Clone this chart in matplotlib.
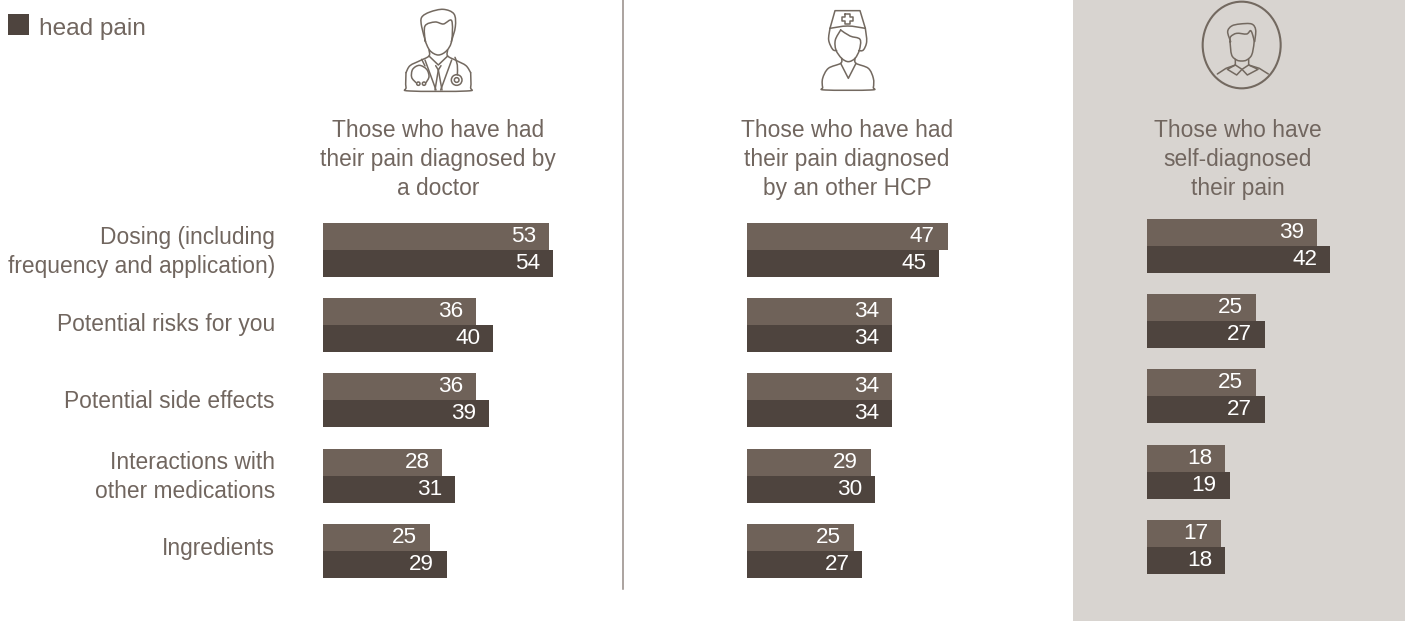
import numpy as np
import matplotlib
matplotlib.use("Agg")
import matplotlib.pyplot as plt
from matplotlib.patches import Rectangle, Ellipse, Circle, PathPatch
from matplotlib.path import Path

plt.rcParams['font.family'] = ['Liberation Sans', 'DejaVu Sans']

W, H = 1405, 621

categories = ["Dosing (including\nfrequency and application)", "Potential risks for you",
              "Potential side effects", "Interactions with\nother medications", "Ingredients"]
legend_label = "head pain"
titles = ["Those who have had\ntheir pain diagnosed by\na doctor",
          "Those who have had\ntheir pain diagnosed\nby an other HCP",
          "Those who have\nself-diagnosed\ntheir pain"]

doctor_light = [53, 36, 36, 28, 25]
doctor_dark = [54, 40, 39, 31, 29]
hcp_light = [47, 34, 34, 29, 25]
hcp_dark = [45, 34, 34, 30, 27]
self_light = [39, 25, 25, 18, 17]
self_dark = [42, 27, 27, 19, 18]

LIGHT = "#6f6259"
DARK = "#4e443e"
TEXT = "#71665f"
LINE = "#736960"
PANEL = "#d8d4d0"

fig = plt.figure(figsize=(W / 100, H / 100), dpi=100, facecolor="white")

# overlay in pixel coordinates for the panel, divider, icons and text
bg = fig.add_axes([0, 0, 1, 1], zorder=0)
bg.set_xlim(0, W)
bg.set_ylim(H, 0)
bg.axis("off")
bg.add_patch(Rectangle((1073, 0), 332, 621, fc=PANEL, ec="none"))
bg.plot([622.6, 622.6], [0, 589], color="#948a85", lw=1.1)
bg.add_patch(Rectangle((8, 14), 21, 21, fc=DARK, ec="none"))
bg.text(39, 28.5, legend_label, fontsize=17.6, color=TEXT, va="center", ha="left")


def smooth(pts, closed=False):
    # catmull-rom through the points
    pts = np.array(pts, dtype=float)
    n = len(pts)
    verts = [pts[0]]
    codes = [Path.MOVETO]
    last = n if closed else n - 1
    for i in range(last):
        if closed:
            p0, p1, p2, p3 = pts[(i - 1) % n], pts[i], pts[(i + 1) % n], pts[(i + 2) % n]
        else:
            p0, p1, p2, p3 = pts[max(i - 1, 0)], pts[i], pts[i + 1], pts[min(i + 2, n - 1)]
        verts += [p1 + (p2 - p0) / 6, p2 - (p3 - p1) / 6, p2]
        codes += [Path.CURVE4] * 3
    return Path(verts, codes)


def icon_line(pts, ox, curved=True, closed=False):
    # points come from the 3x crops, so scale back down
    pts = [(ox + x / 3, y / 3) for x, y in pts]
    if curved:
        path = smooth(pts, closed)
    else:
        path = Path(pts + [pts[0]] if closed else pts)
    bg.add_patch(PathPatch(path, fc="none", ec=LINE, lw=1.1, capstyle="round", joinstyle="round"))


# doctor
ox = 380
icon_line([(137, 125), (125, 80), (125, 52), (150, 36), (190, 28), (222, 42), (226, 80), (214, 125)], ox)
icon_line([(135, 122), (135, 78), (165, 66), (190, 72), (215, 62), (215, 122), (200, 152), (175, 165), (150, 152), (135, 122)], ox)
icon_line([(147, 150), (147, 168), (120, 182), (90, 197), (78, 218)], ox)
icon_line([(78, 218), (78, 262), (90, 273), (260, 273), (272, 262), (272, 218)], ox)
icon_line([(203, 150), (203, 168), (230, 182), (258, 197), (272, 218)], ox)
icon_line([(147, 168), (175, 195), (203, 168)], ox, curved=False)
icon_line([(135, 180), (168, 270)], ox, curved=False)
icon_line([(215, 180), (182, 270)], ox, curved=False)
icon_line([(167, 197), (175, 210), (183, 197)], ox, curved=False)
icon_line([(175, 210), (165, 270)], ox, curved=False)
icon_line([(175, 210), (186, 270)], ox, curved=False)
icon_line([(108, 248), (95, 232), (98, 208), (118, 196), (140, 208), (147, 230), (138, 248)], ox)
icon_line([(125, 178), (135, 198)], ox, curved=False)
icon_line([(225, 172), (232, 195), (232, 225)], ox)
for cx, cy, r in [(230, 240, 16), (230, 240, 7), (115, 251, 5), (132, 251, 5)]:
    bg.add_patch(Circle((ox + cx / 3, cy / 3), r / 3, fc="none", ec=LINE, lw=1.1))

# nurse
ox = 800
icon_line([(90, 85), (105, 32), (180, 32), (196, 85)], ox, curved=False)
icon_line([(90, 85), (143, 78), (196, 85)], ox)
icon_line([(135, 42), (151, 42), (151, 50), (160, 50), (160, 64), (151, 64), (151, 72), (135, 72),
           (135, 64), (126, 64), (126, 50), (135, 50)], ox, curved=False, closed=True)
icon_line([(90, 85), (86, 120), (98, 148), (110, 152)], ox)
icon_line([(196, 85), (200, 125), (190, 150), (176, 152)], ox)
icon_line([(122, 90), (106, 120), (108, 150), (125, 175), (145, 185), (165, 175), (178, 150), (180, 118), (150, 108), (122, 90)], ox)
icon_line([(125, 175), (122, 190), (85, 205), (68, 235), (68, 262), (76, 270), (212, 270), (220, 262), (220, 235), (205, 205), (168, 190), (165, 175)], ox)
icon_line([(122, 190), (145, 235), (168, 190)], ox, curved=False)

# person in circle
ox = 1190
bg.add_patch(Ellipse((ox + 155 / 3, 135 / 3), 234 / 3, 260 / 3, fc="none", ec=LINE, lw=1.5))
icon_line([(122, 125), (113, 95), (125, 78), (150, 72), (185, 72), (197, 90), (194, 125)], ox)
icon_line([(120, 125), (122, 110), (140, 100), (170, 102), (182, 92), (190, 112), (192, 130), (185, 165), (170, 180), (155, 183), (140, 180), (125, 165), (120, 125)], ox)
icon_line([(136, 178), (136, 195), (108, 205), (82, 222)], ox, curved=False)
icon_line([(176, 178), (176, 195), (208, 205), (235, 222)], ox, curved=False)
icon_line([(136, 195), (112, 208), (140, 225), (156, 208), (172, 225), (204, 208), (176, 195)], ox, curved=False)
icon_line([(136, 195), (156, 208), (176, 195)], ox, curved=False)

# category labels, right aligned against the first panel
row_y = [252, 325, 402, 477, 549]
for lab, y in zip(categories, row_y):
    bg.text(275, y, lab, fontsize=16.4, color=TEXT, ha="right", va="center", linespacing=1.3)

title_x = [438, 847, 1238]
for t, x in zip(titles, title_x):
    bg.text(x, 159.5, t, fontsize=16.4, color=TEXT, ha="center", va="center", linespacing=1.33)

# bar panels
panels = [(323, 223, doctor_light, doctor_dark, 4.26),
          (747, 223, hcp_light, hcp_dark, 4.27),
          (1147, 219, self_light, self_dark, 4.36)]
PANEL_W = 250
ROW_STEP = 75.2

for left, top, light, dark, px_per_unit in panels:
    rows = np.arange(len(light))
    height = ROW_STEP * len(light)
    axis_top = top + 27 - ROW_STEP / 2
    ax = fig.add_axes([left / W, 1 - (axis_top + height) / H, PANEL_W / W, height / H], zorder=1)
    ax.patch.set_alpha(0)
    ax.set_xlim(0, PANEL_W / px_per_unit)
    ax.set_ylim(len(light) - 0.5, -0.5)
    ax.axis("off")
    bh = 27 / ROW_STEP
    ax.barh(rows - bh / 2, light, height=bh, color=LIGHT)
    ax.barh(rows + bh / 2, dark, height=bh, color=DARK)
    for r, a, b in zip(rows, light, dark):
        ax.text(a - 3, r - bh / 2, str(a), color="white", fontsize=16.2, ha="right", va="center")
        ax.text(b - 3, r + bh / 2, str(b), color="white", fontsize=16.2, ha="right", va="center")

fig.savefig("out.png", dpi=100, facecolor="white")
